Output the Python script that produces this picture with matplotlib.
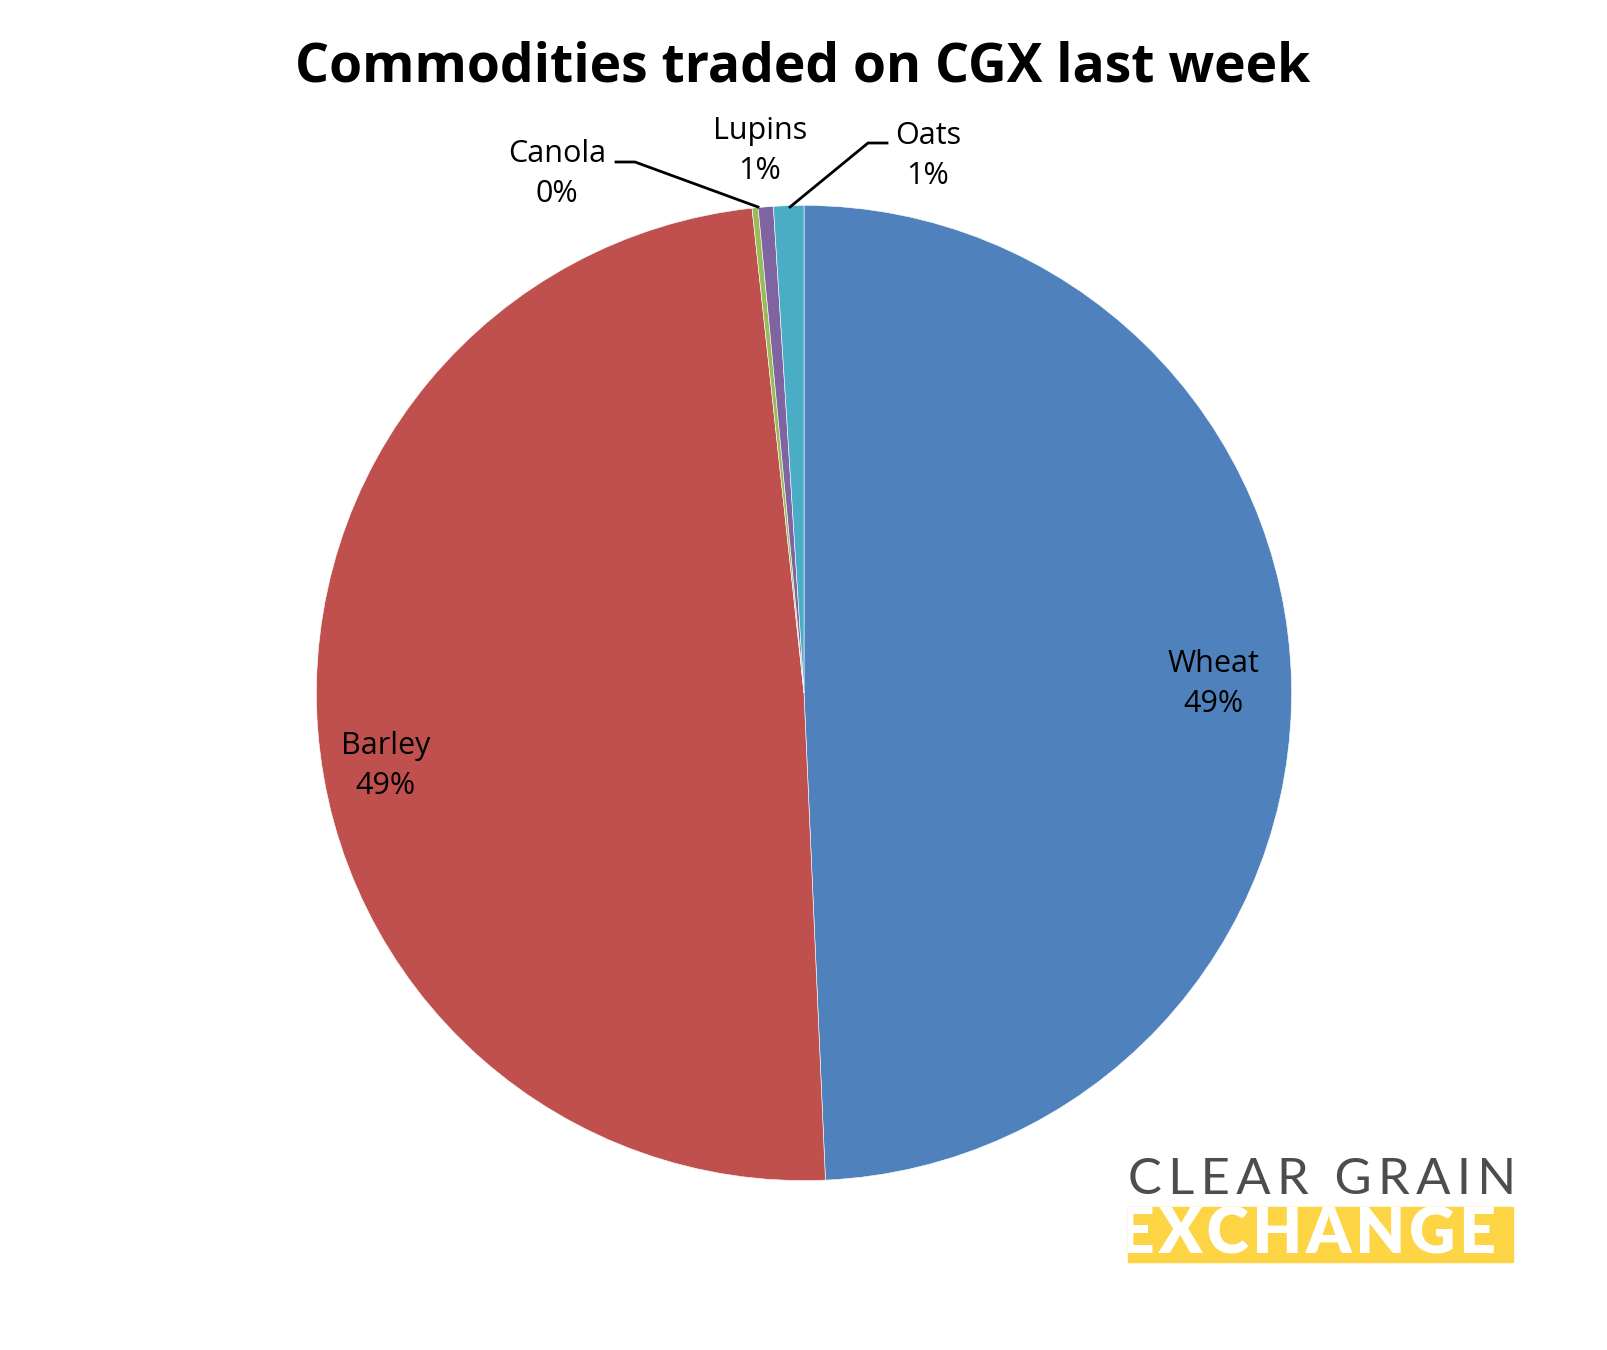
import matplotlib.pyplot as plt
import numpy as np

# share of commodities traded (percent)
commodities = ['Wheat', 'Barley', 'Canola', 'Lupins', 'Oats']
shares = [49.3, 49.0, 0.2, 0.5, 1.0]
colors = ['#4F81BD', '#C0504D', '#9BBB59', '#8064A2', '#4BACC6']

W, H = 1608, 1350
CX, CY, R = 804, 693, 487.6   # pie centre and radius in pixels

def px(x, y):
    # pixel position -> data coords (pie radius = 1)
    return (x - CX) / R, (CY - y) / R

fig = plt.figure(figsize=(W / 100, H / 100), dpi=100)
ax = fig.add_axes([0, 0, 1, 1])

wedges, _ = ax.pie(shares, colors=colors, startangle=90, counterclock=False,
                   radius=1, center=(0, 0),
                   wedgeprops=dict(edgecolor='white', linewidth=0.4))
# pie() sets its own limits, so put ours back afterwards
ax.set_xlim(-CX / R, (W - CX) / R)
ax.set_ylim((CY - H) / R, CY / R)
ax.set_aspect('equal')
ax.axis('off')

font = 'Open Sans'
lab_fs = 22
ls = 1.4

def label(i):
    return '%s\n%d%%' % (commodities[i], int(np.floor(shares[i] + 0.5)))

# big slices: label inside near the rim
for i, r_lab, dy in [(0, 0.84, 0.0), (1, 0.86, -0.085)]:
    w = wedges[i]
    mid = np.deg2rad((w.theta1 + w.theta2) / 2)
    ax.text(r_lab * np.cos(mid), r_lab * np.sin(mid) + dy, label(i),
            ha='center', va='center', fontsize=lab_fs, family=font,
            linespacing=ls)

# small slices: labels outside
ax.text(*px(557, 174), label(2), ha='center', va='center', fontsize=lab_fs,
        family=font, linespacing=ls)
ax.text(*px(760, 151), label(3), ha='center', va='center', fontsize=lab_fs,
        family=font, linespacing=ls)
ax.text(*px(928, 156), label(4), ha='center', va='center', fontsize=lab_fs,
        family=font, linespacing=ls)

# leader lines
canola_line = [px(616, 162), px(635, 162), px(758, 207)]
oats_line = [px(790, 207), px(868, 143), px(887, 143)]
for pts in [canola_line, oats_line]:
    xs, ys = zip(*pts)
    ax.plot(xs, ys, color='black', linewidth=2)

fig.text(803 / W, 1 - 67 / H, 'Commodities traded on CGX last week',
         ha='center', va='center', fontsize=38.5, fontweight='bold', family=font)

# logo
fig.text(1128 / W, 1 - 1180 / H, '\u2009'.join('CLEAR GRAIN'),
         ha='left', va='center', fontsize=36.5, color='#4D4D4D', family='Lato',
         fontweight='normal')
bar = plt.Rectangle((1128 / W, 1 - 1262 / H), 385 / W, 55 / H,
                    transform=fig.transFigure, color='#FDD443')
fig.patches.append(bar)
ex = fig.text(1118 / W, 1 - 1235 / H, '\u200a'.join('EXCHANGE'), ha='left',
              va='center', fontsize=46, color='white', fontweight='heavy',
              family='Lato')
ex.set_clip_path(bar)

fig.savefig('out.png', dpi=100, facecolor='white')
